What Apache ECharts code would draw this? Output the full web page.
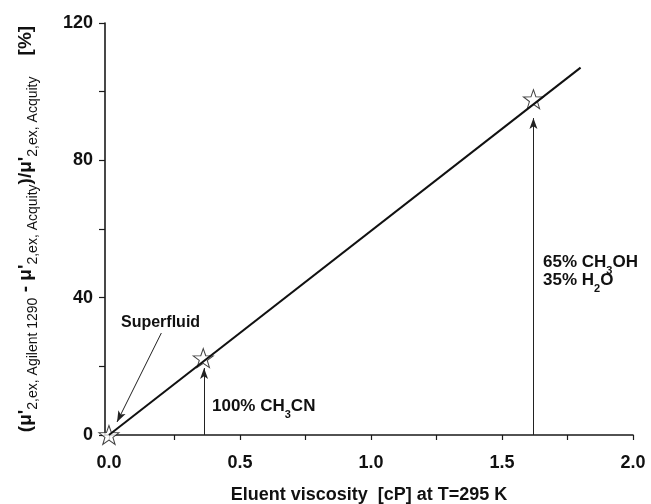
<!DOCTYPE html>
<html>
<head>
<meta charset="utf-8">
<script src="https://cdn.jsdelivr.net/npm/echarts@6/dist/echarts.min.js"></script>
<style>
html, body { margin: 0; padding: 0; background: #fff; }
#chart { width: 651px; height: 504px; }
</style>
</head>
<body>
<div id="chart"></div>
<script>
// measured points (eluent viscosity in cP, relative deviation in %)
const viscosity = [0, 0.36, 1.62];
const deviation = [0, 22.4, 97.8];
// linear fit drawn through them
const fitX = [0, 1.8];
const fitY = [0, 107];
// axis ticks and labels
const xTickValues = [0, 0.25, 0.5, 0.75, 1.0, 1.25, 1.5, 1.75, 2.0];
const xLabelValues = [0, 0.5, 1.0, 1.5, 2.0];
const yTickValues = [0, 20, 40, 60, 80, 100, 120];
const yLabelValues = [0, 40, 80, 120];
// annotation arrows: start / end in data units
const arrowStart = [[0.2, 29.7], [0.363, 0], [1.62, 0]];
const arrowEnd = [[0.031, 3.8], [0.363, 19.5], [1.62, 92.3]];

const FONT = '"Liberation Sans", Arial, sans-serif';

function starSymbol() {
  let d = '';
  for (let i = 0; i < 10; i++) {
    const r = i % 2 ? 0.4 : 1;
    const a = Math.PI / 5 * i - Math.PI / 2;
    d += (i ? 'L' : 'M') + (r * Math.cos(a)).toFixed(3) + ' ' + (r * Math.sin(a)).toFixed(3);
  }
  return 'path://' + d + 'Z';
}

const main = { fontSize: 17, fontWeight: 'bold', fontFamily: FONT, lineHeight: 22 };
const sub = { fontSize: 11, fontWeight: 'bold', fontFamily: FONT, lineHeight: 22, padding: [16, 0, 0, 0] };

function note(left, top, text) {
  return {
    type: 'text', left: left, top: top, silent: true,
    style: { text: text, fill: '#111', rich: { a: main, s: sub } }
  };
}

const chart = echarts.init(document.getElementById('chart'));
chart.setOption({
  animation: false,
  backgroundColor: '#fff',
  grid: { left: 105, right: 18, top: 23, bottom: 69, containLabel: false, outerBoundsMode: 'none' },
  xAxis: {
    type: 'value',
    min: -0.015,
    max: 2.0,
    splitLine: { show: false },
    axisLine: { onZero: false, lineStyle: { color: '#1a1a1a', width: 1.6 } },
    axisTick: { inside: false, length: 5, customValues: xTickValues, lineStyle: { color: '#1a1a1a', width: 1.2 } },
    axisLabel: {
      customValues: xLabelValues, margin: 19,
      color: '#111', fontSize: 18, fontWeight: 'bold', fontFamily: FONT,
      formatter: v => v.toFixed(1)
    },
    name: 'Eluent viscosity  [cP] at T=295 K',
    nameLocation: 'middle',
    nameGap: 51,
    nameTextStyle: { color: '#111', fontSize: 18, fontWeight: 'bold', fontFamily: FONT }
  },
  yAxis: {
    type: 'value',
    min: 0,
    max: 120,
    splitLine: { show: false },
    axisLine: { show: true, onZero: false, lineStyle: { color: '#1a1a1a', width: 1.6 } },
    axisTick: { show: true, inside: false, length: 6, customValues: yTickValues, lineStyle: { color: '#1a1a1a', width: 1.2 } },
    axisLabel: {
      customValues: yLabelValues, margin: 12,
      color: '#111', fontSize: 18, fontWeight: 'bold', fontFamily: FONT
    },
    name: "{m|(\u03bc'}{s|2,ex, Agilent 1290}{m| - \u03bc'}{s|2,ex, Acquity}{m|)/\u03bc'}{s|2,ex, Acquity}{m|    [%]}",
    nameLocation: 'middle',
    nameRotate: 90,
    nameGap: 66,
    nameTextStyle: {
      color: '#111',
      rich: {
        m: { fontSize: 19, fontWeight: 'bold', fontFamily: FONT, lineHeight: 26 },
        s: { fontSize: 14, fontWeight: 'normal', fontFamily: FONT, lineHeight: 26, padding: [14, 0, 0, 0] }
      }
    }
  },
  series: [
    {
      name: 'data',
      type: 'scatter',
      z: 2,
      symbol: starSymbol(),
      symbolSize: [20, 19],
      itemStyle: { color: '#fff', borderColor: '#111', borderWidth: 1 },
      data: viscosity.map((x, i) => [x, deviation[i]])
    },
    {
      name: 'fit',
      type: 'line',
      z: 3,
      symbol: 'none',
      lineStyle: { color: '#111', width: 2 },
      data: fitX.map((x, i) => [x, fitY[i]]),
      markLine: {
        silent: true,
        symbol: ['none', 'arrow'],
        symbolSize: [6, 11],
        label: { show: false },
        lineStyle: { color: '#222', width: 1, type: 'solid' },
        emphasis: { disabled: true },
        data: arrowStart.map((p, i) => [{ coord: p }, { coord: arrowEnd[i] }])
      }
    }
  ],
  graphic: [
    {
      type: 'text', left: 121, top: 315, silent: true,
      style: { text: 'Superfluid', fill: '#111', font: 'bold 16px ' + FONT }
    },
    note(212, 393, '{a|100% CH}{s|3}{a|CN}'),
    note(543, 249, '{a|65% CH}{s|3}{a|OH}'),
    note(543, 267, '{a|35% H}{s|2}{a|O}')
  ]
});
</script>
</body>
</html>
